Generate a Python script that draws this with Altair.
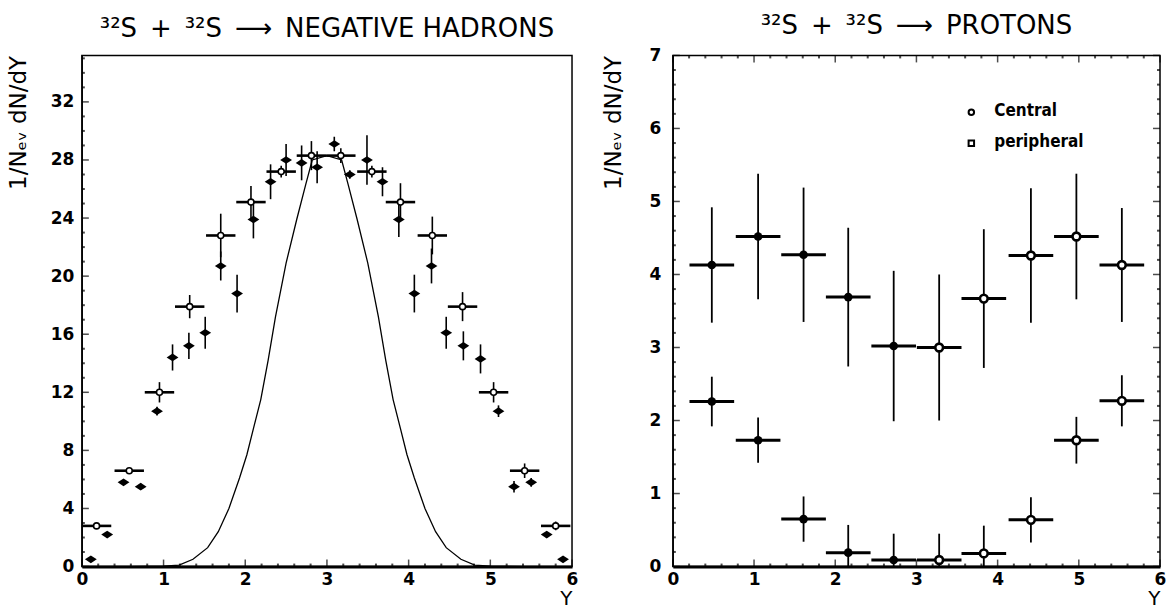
import altair as alt
import pandas as pd

FONT = "DejaVu Sans"

# ---------------- Left panel: 32S + 32S -> negative hadrons ----------------
had_open_x = [0.18, 0.58, 0.95, 1.32, 1.70, 2.07, 2.44, 2.81, 3.17, 3.55, 3.90, 4.29, 4.66, 5.04, 5.42, 5.80]
had_open_y = [2.8, 6.6, 12.0, 17.9, 22.8, 25.1, 27.2, 28.3, 28.3, 27.2, 25.1, 22.8, 17.9, 12.0, 6.6, 2.8]
had_open_err = [0.2, 0.2, 0.7, 0.8, 1.5, 1.1, 0.4, 1.0, 0.5, 0.4, 1.3, 1.3, 1.0, 0.7, 0.5, 0.3]
had_open_halfwidth = 0.18

had_fill_x = [0.11, 0.31, 0.51, 0.72, 0.92, 1.11, 1.31, 1.51, 1.70, 1.90, 2.10, 2.31, 2.50, 2.69, 2.88,
              3.09, 3.28, 3.49, 3.68, 3.88, 4.07, 4.28, 4.46, 4.67, 4.88, 5.10, 5.29, 5.50, 5.69, 5.89]
had_fill_y = [0.5, 2.2, 5.8, 5.5, 10.7, 14.4, 15.2, 16.1, 20.7, 18.8, 23.9, 26.5, 28.0, 27.8, 27.5,
              29.1, 27.0, 28.0, 26.5, 23.9, 18.8, 20.7, 16.1, 15.2, 14.3, 10.7, 5.5, 5.8, 2.2, 0.5]
had_fill_err = [0.0, 0.0, 0.0, 0.2, 0.3, 0.9, 0.9, 1.1, 1.0, 1.3, 1.3, 1.2, 1.1, 1.2, 1.1,
                0.5, 0.3, 1.7, 1.0, 1.2, 1.3, 1.2, 1.1, 1.0, 1.0, 0.4, 0.4, 0.3, 0.2, 0.0]

curve_x = [0.0, 0.6, 1.0, 1.19, 1.36, 1.54, 1.67, 1.80, 1.93, 2.02, 2.10, 2.19, 2.28, 2.37, 2.50, 2.63,
           2.74, 2.82, 3.0, 3.18, 3.26, 3.37, 3.50, 3.63, 3.72, 3.81, 3.90, 3.98, 4.07, 4.20, 4.33,
           4.46, 4.64, 4.81, 5.0, 5.4, 6.0]
curve_y = [0.0, 0.0, 0.02, 0.1, 0.5, 1.3, 2.4, 4.0, 6.1, 7.7, 9.5, 11.5, 14.2, 17.2, 20.9, 23.9,
           26.3, 28.0, 28.3, 28.0, 26.3, 23.9, 20.9, 17.2, 14.2, 11.5, 9.5, 7.7, 6.1, 4.0, 2.4,
           1.3, 0.5, 0.1, 0.02, 0.0, 0.0]

left_y_ticks = [0, 4, 8, 12, 16, 20, 24, 28, 32]
left_y_minor = [v for v in range(0, 36) if v % 4 != 0]
x_ticks = [0, 1, 2, 3, 4, 5, 6]
x_minor = [round(0.2 * i, 1) for i in range(31) if i % 5 != 0]

# ---------------- Right panel: 32S + 32S -> protons ----------------
prot_x = [0.48, 1.05, 1.61, 2.16, 2.72, 3.28, 3.83, 4.41, 4.97, 5.53]
prot_halfwidth = 0.275
prot_measured = [True, True, True, True, True, False, False, False, False, False]
central_y = [4.13, 4.52, 4.27, 3.69, 3.02, 3.00, 3.67, 4.26, 4.52, 4.13]
central_err = [0.79, 0.86, 0.92, 0.95, 1.03, 1.00, 0.95, 0.92, 0.86, 0.78]
periph_y = [2.26, 1.73, 0.65, 0.19, 0.09, 0.09, 0.18, 0.64, 1.73, 2.27]
periph_err = [0.34, 0.31, 0.31, 0.38, 0.36, 0.36, 0.38, 0.31, 0.32, 0.35]

right_y_ticks = [0, 1, 2, 3, 4, 5, 6, 7]
right_y_minor = [round(0.2 * i, 1) for i in range(36) if i % 5 != 0]

legend_labels = ["Central", "peripheral"]

W_L, W_R, H = 491, 488, 512
SP = "\u2002"

# ---------------- tables ----------------
had_open = pd.DataFrame({"x": had_open_x, "y": had_open_y})
had_open["xlo"] = had_open["x"] - had_open_halfwidth
had_open["xhi"] = had_open["x"] + had_open_halfwidth
had_open["ylo"] = had_open["y"] - pd.Series(had_open_err)
had_open["yhi"] = had_open["y"] + pd.Series(had_open_err)

had_fill = pd.DataFrame({"x": had_fill_x, "y": had_fill_y, "e": had_fill_err})
had_fill["ylo"] = had_fill["y"] - had_fill["e"]
had_fill["yhi"] = had_fill["y"] + had_fill["e"]

curve = pd.DataFrame({"x": curve_x, "y": curve_y})

rows = []
for name, ys, es in (("Central", central_y, central_err), ("peripheral", periph_y, periph_err)):
    for xv, yv, ev, m in zip(prot_x, ys, es, prot_measured):
        rows.append({"series": name, "x": xv, "y": yv, "xlo": xv - prot_halfwidth,
                     "xhi": xv + prot_halfwidth, "ylo": max(0.0, yv - ev), "yhi": yv + ev,
                     "measured": m})
prot = pd.DataFrame(rows)


def make_axes(ydomain, yvalues, ylabelpad, ytitlepad):
    xs = alt.Scale(domain=[0, 6], nice=False, zero=False)
    ys = alt.Scale(domain=ydomain, nice=False, zero=False)
    xa = alt.Axis(values=x_ticks, ticks=False, domainWidth=3, domainColor="black", grid=False,
                  labelFont=FONT, labelFontSize=17, labelFontWeight="bold", labelColor="black",
                  labelPadding=5, labelFlush=False, title="Y", titleFont=FONT, titleFontSize=20,
                  titleFontWeight="normal", titleColor="black", titleAnchor="end", titlePadding=1)
    ya = alt.Axis(values=yvalues, ticks=False, domainWidth=1.2, domainColor="black", grid=False,
                  labelFont=FONT, labelFontSize=17, labelFontWeight="bold", labelColor="black",
                  labelPadding=ylabelpad, labelFlush=False, title="1/Nₑᵥ dN/dY", titleFont=FONT,
                  titleFontSize=23, titleFontWeight="normal", titleColor="black",
                  titleAnchor="end", titlePadding=ytitlepad)

    def X(f):
        return alt.X(f, type="quantitative", scale=xs, axis=xa)

    def Y(f):
        return alt.Y(f, type="quantitative", scale=ys, axis=ya)
    return X, Y


def tick_layers(X, Y, values, width, size, thick, sides):
    df = pd.DataFrame({"v": values})
    out = []
    for side in sides:
        if side == "left":
            out.append(alt.Chart(df).mark_tick(orient="horizontal", size=size, thickness=thick, color="black")
                       .encode(y=Y("v"), x=alt.value(size / 2)))
        elif side == "right":
            out.append(alt.Chart(df).mark_tick(orient="horizontal", size=size, thickness=thick, color="black")
                       .encode(y=Y("v"), x=alt.value(width - size / 2)))
        elif side == "bottom":
            out.append(alt.Chart(df).mark_tick(orient="vertical", size=size, thickness=thick, color="black")
                       .encode(x=X("v"), y=alt.value(H - size / 2)))
        elif side == "top":
            out.append(alt.Chart(df).mark_tick(orient="vertical", size=size, thickness=thick, color="black")
                       .encode(x=X("v"), y=alt.value(size / 2)))
    return out


# ---------------- left chart ----------------
XL, YL = make_axes([0, 35.2], left_y_ticks, 8, 20)

l_curve = alt.Chart(curve).mark_line(color="black", strokeWidth=1.3).encode(x=XL("x"), y=YL("y"), order="x:Q")
l_fill_err = alt.Chart(had_fill).mark_rule(color="black", strokeWidth=1.6).encode(x=XL("x"), y=YL("ylo"), y2="yhi")
l_open_err = alt.Chart(had_open).mark_rule(color="black", strokeWidth=1.6).encode(x=XL("x"), y=YL("ylo"), y2="yhi")
l_open_bar = alt.Chart(had_open).mark_rule(color="black", strokeWidth=2.6).encode(x=XL("xlo"), x2="xhi", y=YL("y"))
l_fill_pt = alt.Chart(had_fill).mark_point(shape="M-1,0L0,-0.65L1,0L0,0.65Z", filled=True, color="black",
                                           size=140, opacity=1).encode(x=XL("x"), y=YL("y"))
l_open_pt = alt.Chart(had_open).mark_point(shape="circle", filled=True, fill="white", stroke="black",
                                           strokeWidth=1.6, size=36, opacity=1).encode(x=XL("x"), y=YL("y"))

l_ticks = (tick_layers(XL, YL, left_y_ticks, W_L, 7, 1.5, ["left"]) +
           tick_layers(XL, YL, left_y_minor, W_L, 3, 2, ["left"]) +
           tick_layers(XL, YL, x_ticks, W_L, 7, 1.5, ["bottom"]) +
           tick_layers(XL, YL, x_minor, W_L, 3, 2, ["bottom"]))

left = alt.layer(l_curve, l_fill_err, l_open_err, l_open_bar, l_fill_pt, l_open_pt, *l_ticks).properties(
    width=W_L, height=H,
    title=alt.TitleParams(text=f"³²S{SP}+{SP}³²S{SP}⟶{SP}NEGATIVE HADRONS", font=FONT, fontSize=26,
                          fontWeight="normal", color="black", offset=13, anchor="middle"))

# ---------------- right chart ----------------
XR, YR = make_axes([0, 7], right_y_ticks, 12, 24)

r_err = alt.Chart(prot).mark_rule(color="black", strokeWidth=1.8).encode(x=XR("x"), y=YR("ylo"), y2="yhi", detail="series:N")
r_bar = alt.Chart(prot).mark_rule(color="black", strokeWidth=3).encode(x=XR("xlo"), x2="xhi", y=YR("y"), detail="series:N")
r_fill_pt = alt.Chart(prot).transform_filter("datum.measured").mark_point(
    shape="circle", filled=True, color="black", size=75, opacity=1).encode(x=XR("x"), y=YR("y"))
r_open_pt = alt.Chart(prot).transform_filter("!datum.measured").mark_point(
    shape="circle", filled=True, fill="white", stroke="black", strokeWidth=2.6, size=60, opacity=1).encode(x=XR("x"), y=YR("y"))

leg1_pt = alt.Chart(alt.Data(values=[{"label": legend_labels[0]}])).mark_point(
    shape="circle", filled=True, fill="white", stroke="black", strokeWidth=2, size=30, opacity=1
).encode(x=alt.value(299), y=alt.value(57))
leg2_pt = alt.Chart(alt.Data(values=[{"label": legend_labels[1]}])).mark_point(
    shape="square", filled=True, fill="white", stroke="black", strokeWidth=2, size=30, opacity=1
).encode(x=alt.value(299), y=alt.value(88))
leg1_tx = alt.Chart(alt.Data(values=[{"label": legend_labels[0]}])).mark_text(
    align="left", baseline="middle", font="DejaVu Sans Condensed", fontWeight="bold", fontSize=17, color="black"
).encode(x=alt.value(322), y=alt.value(56), text="label:N")
leg2_tx = alt.Chart(alt.Data(values=[{"label": legend_labels[1]}])).mark_text(
    align="left", baseline="middle", font="DejaVu Sans Condensed", fontWeight="bold", fontSize=17, color="black"
).encode(x=alt.value(322), y=alt.value(87), text="label:N")

r_ticks = (tick_layers(XR, YR, right_y_ticks, W_R, 7, 1.5, ["left", "right"]) +
           tick_layers(XR, YR, right_y_minor, W_R, 3, 2, ["left", "right"]) +
           tick_layers(XR, YR, x_ticks, W_R, 7, 1.5, ["bottom", "top"]) +
           tick_layers(XR, YR, x_minor, W_R, 3, 2, ["bottom", "top"]))

right = alt.layer(r_err, r_bar, r_fill_pt, r_open_pt, leg1_pt, leg2_pt, leg1_tx, leg2_tx, *r_ticks).properties(
    width=W_R, height=H,
    title=alt.TitleParams(text=f"³²S{SP}+{SP}³²S{SP}⟶{SP}PROTONS", font=FONT, fontSize=26,
                          fontWeight="normal", color="black", offset=7, anchor="middle"))

chart = alt.hconcat(left, right, spacing=22).properties(
    padding={"left": 6, "top": 12, "right": 0, "bottom": 0}, background="white"
).configure_view(stroke="black", strokeWidth=1.5)

chart.save("out.html", embed_options={"renderer": "svg", "actions": False})
